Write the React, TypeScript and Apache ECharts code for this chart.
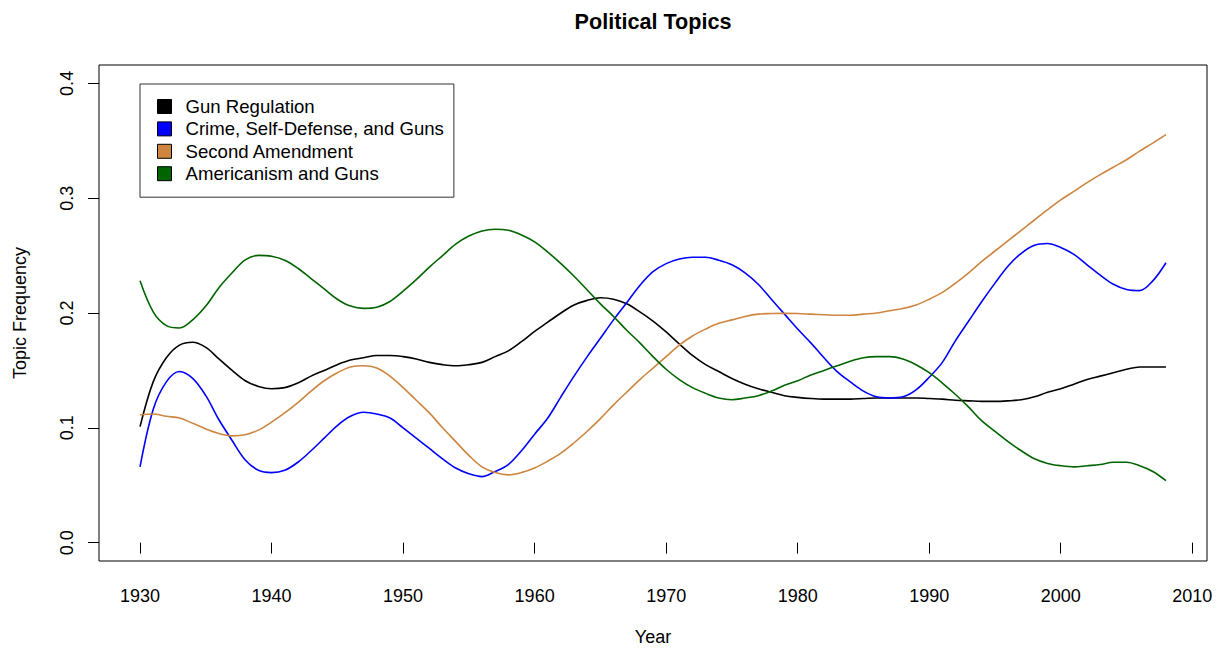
import React, { useEffect, useRef } from "react";
import * as echarts from "echarts";

const years = [
  1930, 1931, 1932, 1933, 1934, 1935, 1936, 1937, 1938, 1939,
  1940, 1941, 1942, 1943, 1944, 1945, 1946, 1947, 1948, 1949,
  1950, 1951, 1952, 1953, 1954, 1955, 1956, 1957, 1958, 1959,
  1960, 1961, 1962, 1963, 1964, 1965, 1966, 1967, 1968, 1969,
  1970, 1971, 1972, 1973, 1974, 1975, 1976, 1977, 1978, 1979,
  1980, 1981, 1982, 1983, 1984, 1985, 1986, 1987, 1988, 1989,
  1990, 1991, 1992, 1993, 1994, 1995, 1996, 1997, 1998, 1999,
  2000, 2001, 2002, 2003, 2004, 2005, 2006, 2007, 2008,
];

const gunRegulation = [
  0.101, 0.14, 0.161, 0.172, 0.1745, 0.17, 0.16, 0.15, 0.141, 0.136,
  0.134, 0.135, 0.139, 0.145, 0.15, 0.155, 0.159, 0.161, 0.163, 0.163,
  0.162, 0.16, 0.157, 0.155, 0.154, 0.155, 0.157, 0.162, 0.167, 0.175,
  0.184, 0.192, 0.2, 0.207, 0.211, 0.2133, 0.212, 0.208, 0.201, 0.193,
  0.1835, 0.173, 0.163, 0.155, 0.149, 0.143, 0.138, 0.134, 0.131, 0.128,
  0.1265, 0.1255, 0.125, 0.125, 0.125, 0.1255, 0.126, 0.126, 0.126, 0.126,
  0.1255, 0.125, 0.124, 0.1235, 0.123, 0.123, 0.1235, 0.1245, 0.127, 0.131,
  0.134, 0.138, 0.142, 0.145, 0.148, 0.151, 0.153, 0.153, 0.153,
];

const crimeSelfDefense = [
  0.066, 0.116, 0.14, 0.149, 0.143, 0.128, 0.107, 0.089, 0.072, 0.063,
  0.061, 0.063, 0.07, 0.08, 0.091, 0.102, 0.11, 0.1135, 0.112, 0.1085,
  0.1, 0.091, 0.082, 0.073, 0.065, 0.06, 0.0575, 0.062, 0.068, 0.08,
  0.0945, 0.1085, 0.127, 0.145, 0.162, 0.178, 0.194, 0.209, 0.224, 0.236,
  0.243, 0.247, 0.2485, 0.2485, 0.246, 0.242, 0.235, 0.225, 0.212, 0.199,
  0.186, 0.174, 0.161, 0.149, 0.14, 0.132, 0.127, 0.126, 0.127, 0.133,
  0.144, 0.157, 0.176, 0.193, 0.21, 0.226, 0.241, 0.252, 0.259, 0.2605,
  0.257, 0.251, 0.242, 0.233, 0.225, 0.2205, 0.2195, 0.228, 0.2438,
];

const secondAmendment = [
  0.1114, 0.112, 0.11, 0.1085, 0.104, 0.099, 0.095, 0.093, 0.094, 0.098,
  0.105, 0.113, 0.122, 0.132, 0.141, 0.148, 0.153, 0.154, 0.152, 0.145,
  0.135, 0.124, 0.113, 0.1, 0.088, 0.076, 0.066, 0.061, 0.059, 0.061,
  0.065, 0.071, 0.078, 0.087, 0.097, 0.108, 0.12, 0.131, 0.142, 0.152,
  0.162, 0.172, 0.18, 0.186, 0.191, 0.194, 0.197, 0.199, 0.1995, 0.1997,
  0.1995, 0.199, 0.1985, 0.198, 0.198, 0.199, 0.2, 0.202, 0.204, 0.207,
  0.212, 0.218, 0.226, 0.235, 0.245, 0.254, 0.263, 0.272, 0.281, 0.29,
  0.2985, 0.306, 0.3135, 0.3205, 0.327, 0.3335, 0.341, 0.348, 0.3553,
];

const americanism = [
  0.228, 0.201, 0.189, 0.187, 0.194, 0.206, 0.222, 0.235, 0.2462, 0.2502,
  0.2495, 0.246, 0.239, 0.23, 0.221, 0.212, 0.206, 0.204, 0.205, 0.21,
  0.219, 0.229, 0.24, 0.25, 0.26, 0.267, 0.2715, 0.273, 0.272, 0.268,
  0.262, 0.253, 0.243, 0.232, 0.22, 0.208, 0.197, 0.185, 0.174, 0.162,
  0.151, 0.142, 0.135, 0.13, 0.126, 0.1245, 0.126, 0.128, 0.132, 0.137,
  0.141, 0.146, 0.15, 0.154, 0.158, 0.161, 0.162, 0.162, 0.16, 0.155,
  0.148, 0.139, 0.129, 0.118, 0.106, 0.097, 0.088, 0.08, 0.073, 0.069,
  0.067, 0.066, 0.067, 0.068, 0.07, 0.07, 0.067, 0.062, 0.054,
];

const seriesNames = [
  "Gun Regulation",
  "Crime, Self-Defense, and Guns",
  "Second Amendment",
  "Americanism and Guns",
];
const seriesColors = ["#000000", "#0000FF", "#CD853F", "#006400"];
const seriesValues = [gunRegulation, crimeSelfDefense, secondAmendment, americanism];

const xTicks = [1930, 1940, 1950, 1960, 1970, 1980, 1990, 2000, 2010];
const yTicks = [0, 0.1, 0.2, 0.3, 0.4];

const FONT = "'Liberation Sans', Arial, Helvetica, sans-serif";

export default function App() {
  const ref = useRef<HTMLDivElement>(null);
  useEffect(() => {
    if (!ref.current) return;
    const chart = echarts.init(ref.current, null, { renderer: "svg" });
    const xMin = 1930 - 0.04 * (2008 - 1930);
    const xMax = 2008 + 0.04 * (2008 - 1930);
    const yMin = 0 - 0.04 * 0.4;
    const yMax = 0.4 + 0.04 * 0.4;
    chart.setOption({
      animation: false,
      backgroundColor: "#ffffff",
      textStyle: { fontFamily: FONT, color: "#000" },
      title: {
        text: "Political Topics",
        left: 653,
        top: 10,
        textAlign: "center",
        padding: 0,
        textStyle: { fontFamily: FONT, fontSize: 21.6, fontWeight: "bold", color: "#000" },
      },
      legend: {
        orient: "vertical",
        left: 140,
        top: 84,
        padding: [13, 10, 14, 17],
        borderColor: "#333",
        borderWidth: 1,
        itemGap: 3.4,
        itemWidth: 32,
        itemHeight: 14,
        icon: "path://M0,0L10,0L10,10L0,10Z",
        itemStyle: { borderColor: "#000", borderWidth: 1 },
        textStyle: { fontFamily: FONT, fontSize: 18.6, color: "#000", lineHeight: 18 },
        data: seriesNames,
      },
      grid: {
        left: 99,
        top: 65,
        right: 11,
        bottom: 87,
        outerBoundsMode: "none",
        containLabel: false,
        show: true,
        borderColor: "#000",
        borderWidth: 1,
        backgroundColor: "transparent",
      },
      xAxis: {
        type: "value",
        min: xMin,
        max: xMax,
        name: "Year",
        nameLocation: "middle",
        nameGap: 69,
        nameTextStyle: { fontFamily: FONT, fontSize: 18, color: "#000", lineHeight: 14 },
        axisLine: { show: false },
        axisTick: {
          show: true,
          length: 11,
          customValues: xTicks,
          lineStyle: { color: "#000", width: 1 },
        },
        axisLabel: {
          customValues: xTicks,
          margin: 26,
          fontFamily: FONT,
          fontSize: 18,
          color: "#000",
          formatter: (v: number) => String(Math.round(v)),
        },
        splitLine: { show: false },
      },
      yAxis: {
        type: "value",
        min: yMin,
        max: yMax,
        name: "Topic Frequency",
        nameLocation: "middle",
        nameGap: 70,
        nameTextStyle: { fontFamily: FONT, fontSize: 18, color: "#000" },
        axisLine: { show: false },
        axisTick: {
          show: true,
          length: 11,
          customValues: yTicks,
          lineStyle: { color: "#000", width: 1 },
        },
        axisLabel: {
          customValues: yTicks,
          rotate: 90,
          margin: 23,
          fontFamily: FONT,
          fontSize: 18,
          color: "#000",
          formatter: (v: number) => v.toFixed(1),
        },
        splitLine: { show: false },
      },
      series: seriesNames.map((name, i) => ({
        name,
        type: "line",
        symbol: "none",
        smooth: 0.35,
        color: seriesColors[i],
        itemStyle: { color: seriesColors[i] },
        lineStyle: { color: seriesColors[i], width: 1.6 },
        data: years.map((y, j) => [y, seriesValues[i][j]]),
      })),
    });
    return () => chart.dispose();
  }, []);
  return (
    <div
      ref={ref}
      style={{ position: "absolute", left: 0, top: 0, width: 1218, height: 648 }}
    />
  );
}
